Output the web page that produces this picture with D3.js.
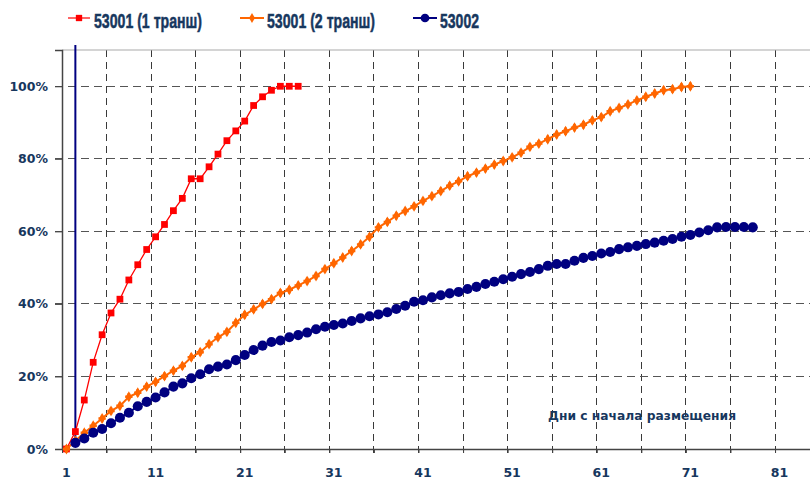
<!DOCTYPE html>
<html><head><meta charset="utf-8">
<script src="https://cdn.jsdelivr.net/npm/d3@7"></script>
<style>html,body{margin:0;padding:0;background:#fff;}svg{display:block;}</style>
</head><body>
<svg id="c" width="810" height="481"></svg>
<script>
// ---- data ----
const seriesNames = ["53001 (1 транш)", "53001 (2 транш)", "53002"];
const tranche1 = [0, 4.8, 13.5, 23.9, 31.5, 37.5, 41.3, 46.6, 50.8, 55.0, 58.5, 61.9, 65.7, 69.1, 74.5, 74.5, 77.8, 81.3, 85.0, 87.7, 90.4, 94.7, 97.1, 98.9, 100, 100, 100];
const tranche2 = [0, 2.3, 4.5, 6.4, 8.4, 10.5, 11.9, 14.4, 15.5, 17.2, 18.5, 20.1, 21.6, 22.9, 25.3, 26.7, 28.9, 30.8, 32.3, 34.8, 37.0, 38.5, 40.0, 41.3, 43.0, 43.9, 45.1, 46.3, 47.7, 49.6, 51.2, 52.8, 54.6, 56.4, 58.5, 61.1, 62.6, 64.3, 65.6, 66.9, 68.4, 69.7, 71.1, 72.6, 73.8, 75.2, 76.2, 77.3, 78.4, 79.4, 80.4, 81.7, 83.3, 84.2, 85.4, 86.7, 87.6, 88.6, 89.4, 90.6, 91.5, 93.1, 94.0, 95.0, 96.1, 97.1, 98.0, 98.9, 99.2, 99.8, 100];
const series53002 = [null, 1.7, 2.9, 4.5, 5.5, 7.1, 8.6, 10.0, 11.8, 13.0, 14.2, 15.6, 17.2, 18.1, 19.5, 20.6, 22.0, 22.7, 23.3, 24.5, 25.9, 27.3, 28.5, 29.5, 29.9, 30.8, 31.4, 32.1, 33.0, 33.7, 34.2, 34.6, 35.3, 36.0, 36.6, 37.1, 37.7, 38.6, 39.5, 40.6, 41.0, 41.8, 42.4, 42.9, 43.3, 44.1, 44.7, 45.5, 46.1, 46.8, 47.5, 48.2, 48.8, 49.6, 50.5, 51.0, 51.0, 51.9, 52.7, 53.2, 53.9, 54.3, 55.1, 55.6, 56.0, 56.5, 56.9, 57.4, 57.9, 58.5, 59.0, 59.7, 60.3, 61.1, 61.2, 61.2, 61.2, 61.1];
const xTickLabels = [1, 11, 21, 31, 41, 51, 61, 71, 81];
const yTickValues = [0, 20, 40, 60, 80, 100];
const nCategories = 84;
const markerDay = 2;
const axisTitle = "Дни с начала размещения";

// ---- layout ----
const svg = d3.select("#c");
const L = 62, R = 810.7, T = 50, B = 449;
const x = d3.scaleLinear().domain([0.5, nCategories + 0.5]).range([L, R]);
const y = d3.scaleLinear().domain([0, 110]).range([B, T]);
const textColor = "#17375E";
const font = "'DejaVu Sans', Verdana, sans-serif";

// gridlines
const vGrid = d3.range(5.5, nCategories, 5);
svg.append("g").selectAll("line").data(vGrid).join("line")
  .attr("x1", d => x(d)).attr("x2", d => x(d)).attr("y1", T).attr("y2", B + 4)
  .attr("stroke", "#3a3a3a").attr("stroke-width", 1).attr("stroke-dasharray", "7,5")
  .attr("shape-rendering", "crispEdges");
svg.append("g").selectAll("line").data(yTickValues.filter(v => v > 0)).join("line")
  .attr("x1", L - 7).attr("x2", R).attr("y1", d => y(d)).attr("y2", d => y(d))
  .attr("stroke", "#555").attr("stroke-width", 1).attr("stroke-dasharray", "8,5")
  .attr("shape-rendering", "crispEdges");

// top border
svg.append("line").attr("x1", L).attr("x2", R).attr("y1", T).attr("y2", T)
  .attr("stroke", "#aaa").attr("stroke-width", 1.2);

// y axis
const yAxis = d3.axisLeft(y).tickValues(yTickValues).tickFormat(d => d + "%").tickSize(7).tickPadding(7);
const gy = svg.append("g").attr("transform", `translate(${L},0)`).call(yAxis);
gy.select(".domain").attr("stroke", "#444").attr("stroke-width", 1.5);
gy.selectAll(".tick line").attr("stroke", "#444");
gy.selectAll("text").attr("fill", textColor).attr("font-family", font).attr("font-weight", "bold").attr("font-size", 12.5);

// x axis
const xAxis = d3.axisBottom(x).tickValues(vGrid.concat([0.5])).tickFormat("").tickSize(4).tickSizeOuter(0);
const gx = svg.append("g").attr("transform", `translate(0,${B})`).call(xAxis);
gx.select(".domain").attr("stroke", "#444").attr("stroke-width", 1.5);
gx.selectAll(".tick line").attr("stroke", "#444");
svg.append("g").selectAll("text").data(xTickLabels).join("text")
  .attr("x", d => x(d)).attr("y", 477).attr("text-anchor", "middle")
  .attr("fill", textColor).attr("font-family", font).attr("font-weight", "bold").attr("font-size", 12.5)
  .text(d => d);

// axis title
svg.append("text").attr("x", 548).attr("y", 419.5).attr("fill", textColor)
  .attr("font-family", font).attr("font-weight", "bold").attr("font-size", 12)
  .attr("textLength", 188).attr("lengthAdjust", "spacingAndGlyphs").text(axisTitle);

// vertical marker line
svg.append("line").attr("x1", x(markerDay)).attr("x2", x(markerDay))
  .attr("y1", T - 5).attr("y2", y(series53002[markerDay - 1]))
  .attr("stroke", "#000080").attr("stroke-width", 2);

const toPts = arr => arr.map((v, i) => ({d: i + 1, v})).filter(p => p.v !== null);
const line = d3.line().x(p => x(p.d)).y(p => y(p.v));

const cfg = [
  {data: tranche1, color: "#FF0000", w: 1.3, sym: d3.symbolSquare, size: 46},
  {data: tranche2, color: "#FF6600", w: 2, sym: d3.symbolDiamond, size: 34},
  {data: series53002, color: "#000080", w: 2, sym: d3.symbolCircle, size: 80}
];
cfg.forEach(c => {
  const pts = toPts(c.data);
  svg.append("path").datum(pts).attr("d", line).attr("fill", "none")
    .attr("stroke", c.color).attr("stroke-width", c.w);
  svg.append("g").selectAll("path").data(pts).join("path")
    .attr("transform", p => `translate(${x(p.d)},${y(p.v)})`)
    .attr("d", d3.symbol().type(c.sym).size(c.size)).attr("fill", c.color);
  if (c.sym === d3.symbolDiamond) {
    svg.append("g").selectAll("path").data(pts).join("path")
      .attr("transform", p => `translate(${x(p.d)},${y(p.v)})`)
      .attr("d", d3.symbol().type(d3.symbolCross).size(30)).attr("fill", c.color);
  }
});

// legend
const legend = [
  {x1: 68, x2: 90, tx: 94, tw: 108, color: "#FF0000", sym: d3.symbolSquare, size: 40, w: 2},
  {x1: 240, x2: 264, tx: 267, tw: 108, color: "#FF6600", sym: d3.symbolDiamond, size: 30, w: 2},
  {x1: 413, x2: 437, tx: 440, tw: 39, color: "#000080", sym: d3.symbolCircle, size: 60, w: 2}
];
legend.forEach((l, i) => {
  const cy = 18;
  svg.append("line").attr("x1", l.x1).attr("x2", l.x2).attr("y1", cy).attr("y2", cy)
    .attr("stroke", l.color).attr("stroke-width", l.w).attr("opacity", i === 0 ? 0.6 : 1);
  svg.append("path").attr("transform", `translate(${(l.x1 + l.x2) / 2},${cy})`)
    .attr("d", d3.symbol().type(l.sym).size(l.size)).attr("fill", l.color);
  svg.append("text").attr("x", l.tx).attr("y", 27.5).attr("fill", textColor)
    .attr("stroke", textColor).attr("stroke-width", 0.5)
    .attr("font-family", "'Liberation Sans', Arial, sans-serif").attr("font-weight", "bold").attr("font-size", 20)
    .attr("textLength", l.tw).attr("lengthAdjust", "spacingAndGlyphs").text(seriesNames[i]);
});
</script>
</body></html>
